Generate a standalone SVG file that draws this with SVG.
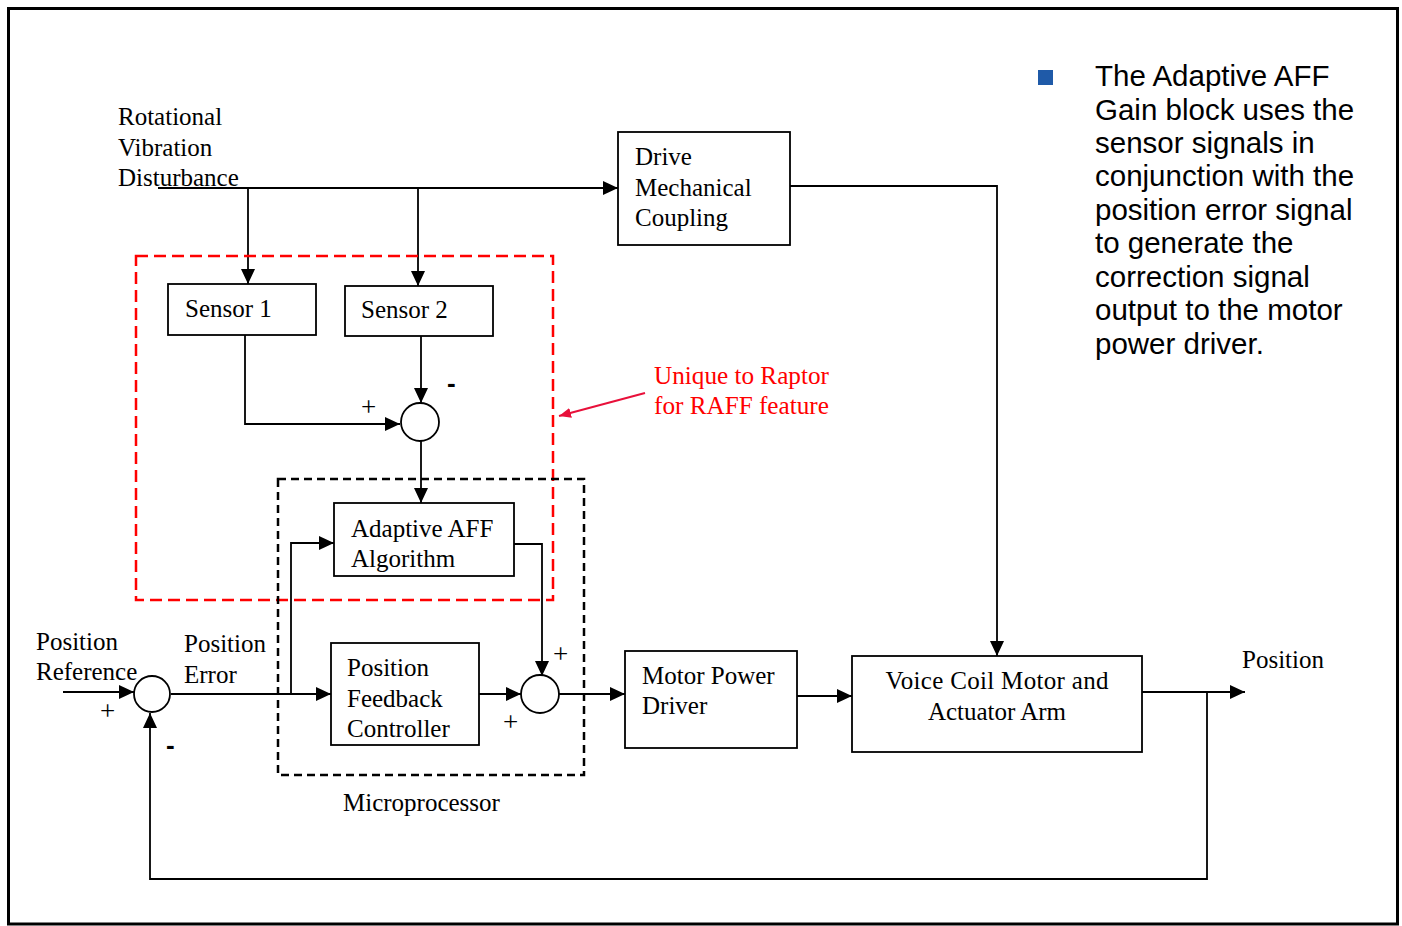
<svg xmlns="http://www.w3.org/2000/svg" width="1402" height="926" viewBox="0 0 1402 926">
<style>
.t{font-family:"Liberation Serif","Times New Roman",serif;font-size:25px;fill:#000}
.s{font-family:"Liberation Serif","Times New Roman",serif;font-size:27px;fill:#000}
.m{font-family:"Liberation Sans",Arial,sans-serif;font-size:26px;font-weight:bold;fill:#000}
.r{font-family:"Liberation Serif","Times New Roman",serif;font-size:25.2px;fill:#ff0000}
.a{font-family:"Liberation Sans",Arial,sans-serif;font-size:29.5px;fill:#000}
.box{fill:#fff;stroke:#000;stroke-width:1.8}
.ln{fill:none;stroke:#000;stroke-width:1.8}
.ar{fill:none;stroke:#000;stroke-width:1.8;marker-end:url(#ah)}
.sum{fill:#fff;stroke:#000;stroke-width:1.8}
</style>
<defs>
<marker id="ah" viewBox="0 0 15 14" refX="15" refY="7" markerWidth="15" markerHeight="14" markerUnits="userSpaceOnUse" orient="auto">
<path d="M0,0 L15,7 L0,14 Z" fill="#000"/>
</marker>
<marker id="rh" viewBox="0 0 12 10" refX="12" refY="5" markerWidth="12" markerHeight="10" markerUnits="userSpaceOnUse" orient="auto">
<path d="M0,0 L12,5 L0,10 Z" fill="#e8103a"/>
</marker>
</defs>
<rect x="0" y="0" width="1402" height="926" fill="#fff"/>
<rect x="8.5" y="8.5" width="1389" height="915.5" fill="none" stroke="#000" stroke-width="3"/>

<g id="connectors">
<path class="ar" d="M158,188 H618"/>
<path class="ar" d="M248,188 V284"/>
<path class="ar" d="M418,188 V286"/>
<path class="ar" d="M790,186 H997 V656"/>
<path class="ar" d="M245,335 V424 H400"/>
<path class="ar" d="M421,336 V403"/>
<path class="ar" d="M421,441 V503"/>
<path class="ar" d="M291,694 V543 H334"/>
<path class="ar" d="M514,544 H542 V676"/>
<path class="ar" d="M171,694 H331"/>
<path class="ar" d="M63,692 H134"/>
<path class="ar" d="M479,694 H521"/>
<path class="ar" d="M559,694 H625"/>
<path class="ar" d="M797,696 H852"/>
<path class="ar" d="M1142,692 H1245"/>
<path class="ar" d="M1207,692 V879 H150 V713"/>
<path d="M645,393 L559,416" fill="none" stroke="#e8103a" stroke-width="2" marker-end="url(#rh)"/>
</g>

<g id="red-region">
<rect x="136" y="256" width="417" height="344" fill="none" stroke="#ff0000" stroke-width="2.5" stroke-dasharray="12,6"/>
</g>
<g id="microprocessor">
<rect x="278" y="479" width="306" height="296" fill="none" stroke="#000" stroke-width="2.5" stroke-dasharray="8,5"/>
<text class="t" x="343" y="811">Microprocessor</text>
</g>

<g id="disturbance">
<text class="t" x="118" y="125">Rotational</text>
<text class="t" x="118" y="156">Vibration</text>
<text class="t" x="118" y="186">Disturbance</text>
</g>

<g id="drive-coupling">
<rect class="box" x="618" y="132" width="172" height="113"/>
<text class="t" x="635" y="165">Drive</text>
<text class="t" x="635" y="196">Mechanical</text>
<text class="t" x="635" y="226">Coupling</text>
</g>

<g id="sensor1">
<rect class="box" x="168" y="284" width="148" height="51"/>
<text class="t" x="185" y="317">Sensor 1</text>
</g>
<g id="sensor2">
<rect class="box" x="345" y="286" width="148" height="50"/>
<text class="t" x="361" y="318">Sensor 2</text>
</g>

<g id="sum-sensors">
<circle class="sum" cx="420" cy="422" r="19"/>
<text class="s" x="361" y="416">+</text>
<text class="m" x="447" y="392">-</text>
</g>

<g id="adaptive-aff">
<rect class="box" x="334" y="503" width="180" height="73"/>
<text class="t" x="351" y="537">Adaptive AFF</text>
<text class="t" x="351" y="567">Algorithm</text>
</g>

<g id="position-feedback-controller">
<rect class="box" x="331" y="643" width="148" height="102"/>
<text class="t" x="347" y="676">Position</text>
<text class="t" x="347" y="707">Feedback</text>
<text class="t" x="347" y="737">Controller</text>
</g>

<g id="sum-output">
<circle class="sum" cx="540" cy="694" r="19"/>
<text class="s" x="553" y="663">+</text>
<text class="s" x="503" y="731">+</text>
</g>

<g id="sum-input">
<circle class="sum" cx="152" cy="694" r="18"/>
<text class="s" x="100" y="720">+</text>
<text class="m" x="166" y="754">-</text>
</g>

<g id="position-reference">
<text class="t" x="36" y="650">Position</text>
<text class="t" x="36" y="680">Reference</text>
</g>
<g id="position-error">
<text class="t" x="184" y="652">Position</text>
<text class="t" x="184" y="683">Error</text>
</g>

<g id="motor-power-driver">
<rect class="box" x="625" y="651" width="172" height="97"/>
<text class="t" x="642" y="684">Motor Power</text>
<text class="t" x="642" y="714">Driver</text>
</g>

<g id="vcm">
<rect class="box" x="852" y="656" width="290" height="96"/>
<text class="t" x="997" y="689" text-anchor="middle" textLength="223">Voice Coil Motor and</text>
<text class="t" x="997" y="720" text-anchor="middle">Actuator Arm</text>
</g>

<g id="position-out">
<text class="t" x="1242" y="668">Position</text>
</g>

<g id="raff-note">
<text class="r" x="654" y="384">Unique to Raptor</text>
<text class="r" x="654" y="414">for RAFF feature</text>
</g>

<g id="bullet-text">
<rect x="1038" y="70" width="15" height="15" fill="#1f5aa8"/>
<text class="a" x="1095" y="86">The Adaptive AFF</text>
<text class="a" x="1095" y="120">Gain block uses the</text>
<text class="a" x="1095" y="153">sensor signals in</text>
<text class="a" x="1095" y="186">conjunction with the</text>
<text class="a" x="1095" y="220">position error signal</text>
<text class="a" x="1095" y="253">to generate the</text>
<text class="a" x="1095" y="287">correction signal</text>
<text class="a" x="1095" y="320">output to the motor</text>
<text class="a" x="1095" y="354">power driver.</text>
</g>
</svg>
